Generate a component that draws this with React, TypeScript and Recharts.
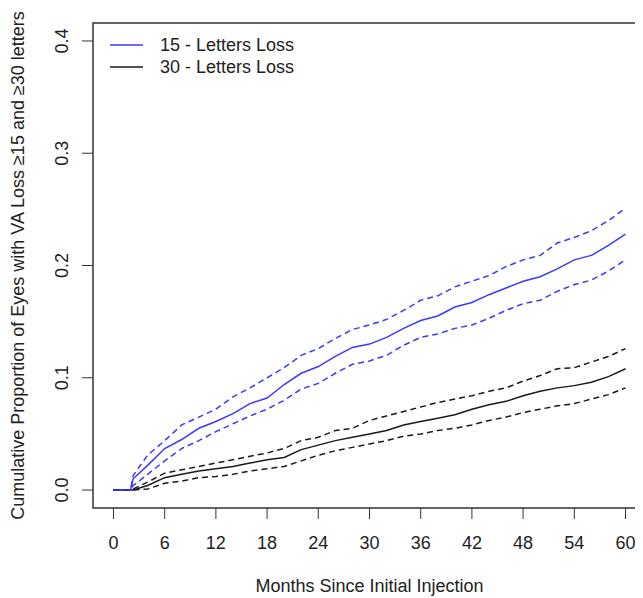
import React from 'react';
import { LineChart, Line, XAxis, YAxis, ReferenceArea } from 'recharts';

// months since first injection
const months = [0, 2, 2.3, 4, 6, 8, 10, 12, 14, 16, 18, 20, 22, 24, 26, 28, 30, 32, 34, 36, 38, 40, 42, 44, 46, 48, 50, 52, 54, 56, 58, 60];

const loss15 = [0, 0, 0.010, 0.022, 0.037, 0.045, 0.055, 0.061, 0.068, 0.077, 0.082, 0.094, 0.104, 0.110, 0.119, 0.127, 0.130, 0.136, 0.144, 0.151, 0.155, 0.163, 0.167, 0.174, 0.180, 0.186, 0.190, 0.197, 0.205, 0.209, 0.218, 0.228];
const loss15Upper = [0, 0, 0.013, 0.031, 0.044, 0.058, 0.065, 0.072, 0.083, 0.091, 0.100, 0.109, 0.120, 0.126, 0.135, 0.143, 0.147, 0.152, 0.160, 0.169, 0.173, 0.181, 0.186, 0.191, 0.199, 0.205, 0.209, 0.220, 0.225, 0.231, 0.240, 0.251];
const loss15Lower = [0, 0, 0.004, 0.014, 0.026, 0.037, 0.044, 0.052, 0.059, 0.066, 0.072, 0.080, 0.090, 0.095, 0.104, 0.112, 0.115, 0.120, 0.129, 0.136, 0.139, 0.144, 0.147, 0.153, 0.160, 0.166, 0.169, 0.177, 0.183, 0.187, 0.195, 0.205];

const loss30 = [0, 0, 0, 0.004, 0.011, 0.014, 0.017, 0.019, 0.021, 0.024, 0.027, 0.029, 0.036, 0.040, 0.044, 0.047, 0.050, 0.053, 0.058, 0.061, 0.064, 0.067, 0.072, 0.076, 0.079, 0.084, 0.088, 0.091, 0.093, 0.096, 0.101, 0.108];
const loss30Upper = [0, 0, 0.001, 0.007, 0.015, 0.018, 0.021, 0.024, 0.027, 0.030, 0.033, 0.037, 0.044, 0.047, 0.053, 0.055, 0.062, 0.066, 0.070, 0.074, 0.078, 0.081, 0.084, 0.088, 0.091, 0.097, 0.102, 0.108, 0.109, 0.114, 0.119, 0.126];
const loss30Lower = [0, 0, 0, 0.001, 0.006, 0.008, 0.011, 0.012, 0.014, 0.017, 0.019, 0.021, 0.026, 0.031, 0.035, 0.038, 0.041, 0.044, 0.048, 0.050, 0.053, 0.055, 0.058, 0.062, 0.065, 0.069, 0.072, 0.075, 0.077, 0.081, 0.085, 0.091];

const xTicks = [0, 6, 12, 18, 24, 30, 36, 42, 48, 54, 60];
const yTicks = [0, 0.1, 0.2, 0.3, 0.4];

const legendItems = [
  { label: '15 - Letters Loss', color: '#3a3aff' },
  { label: '30 - Letters Loss', color: '#1a1a1a' },
];

// R pads the axis range by 4% on each side
const X_MIN = -2.4;
const X_MAX = 62.4;
const Y_MIN = -0.016;
const Y_MAX = 0.416;

const FONT = '"Liberation Sans", Arial, Helvetica, sans-serif';
const BLUE = '#3a3aff';
const BLACK = '#1a1a1a';
const AXIS = '#333';

const data = months.map((m, i) => ({
  month: m,
  l15: loss15[i],
  l15hi: loss15Upper[i],
  l15lo: loss15Lower[i],
  l30: loss30[i],
  l30hi: loss30Upper[i],
  l30lo: loss30Lower[i],
}));

const YTick = (props: any) => {
  const { x, y, payload } = props;
  return (
    <text x={x} y={y} dy="0.35em" transform={`rotate(-90, ${x}, ${y})`} textAnchor="middle" fontSize={18} fill="#222" fontFamily={FONT}>
      {Number(payload.value).toFixed(1)}
    </text>
  );
};

const YLabel = (props: any) => {
  const vb = props.viewBox;
  const cy = vb.y + vb.height / 2;
  return (
    <text x={10} y={cy} dy="0.35em" transform={`rotate(-90, 10, ${cy})`} textAnchor="middle" fontSize={18} fill="#222" fontFamily={FONT}>
      Cumulative Proportion of Eyes with VA Loss ≥15 and ≥30 letters
    </text>
  );
};

export default function App() {
  return (
    <div style={{ position: 'relative', width: 634, height: 590, overflow: 'hidden', fontFamily: FONT }}>
      <LineChart width={650} height={590} data={data} margin={{ top: 15, right: 12, bottom: 0, left: 0 }}>
        <XAxis
          dataKey="month"
          type="number"
          domain={[X_MIN, X_MAX]}
          ticks={xTicks}
          allowDataOverflow
          axisLine={false}
          tickLine={{ stroke: AXIS }}
          tickSize={11}
          tickMargin={17}
          height={90}
          tick={{ fontSize: 18, fill: '#222', fontFamily: FONT }}
          label={{ value: 'Months Since Initial Injection', position: 'insideBottom', offset: 6, fontSize: 18, fill: '#222', fontFamily: FONT }}
        />
        <YAxis
          type="number"
          domain={[Y_MIN, Y_MAX]}
          ticks={yTicks}
          allowDataOverflow
          axisLine={false}
          tickLine={{ stroke: AXIS }}
          tickSize={11}
          tickMargin={20}
          width={85}
          tick={<YTick />}
          label={<YLabel />}
        />
        <ReferenceArea x1={X_MIN} x2={X_MAX} y1={Y_MIN} y2={Y_MAX} fill="none" stroke={AXIS} strokeWidth={1.5} ifOverflow="visible" />
        <Line dataKey="l15hi" stroke={BLUE} strokeWidth={1.5} strokeDasharray="6 4" dot={false} type="linear" isAnimationActive={false} />
        <Line dataKey="l15lo" stroke={BLUE} strokeWidth={1.5} strokeDasharray="6 4" dot={false} type="linear" isAnimationActive={false} />
        <Line dataKey="l30hi" stroke={BLACK} strokeWidth={1.5} strokeDasharray="6 4" dot={false} type="linear" isAnimationActive={false} />
        <Line dataKey="l30lo" stroke={BLACK} strokeWidth={1.5} strokeDasharray="6 4" dot={false} type="linear" isAnimationActive={false} />
        <Line dataKey="l30" stroke={BLACK} strokeWidth={1.5} dot={false} type="linear" isAnimationActive={false} />
        <Line dataKey="l15" stroke={BLUE} strokeWidth={1.5} dot={false} type="linear" isAnimationActive={false} />
      </LineChart>
      <div style={{ position: 'absolute', left: 102, top: 26 }}>
        {legendItems.map((it) => (
          <div key={it.label} style={{ display: 'flex', alignItems: 'center', height: 22 }}>
            <svg width={33} height={4} style={{ marginRight: 17 }}>
              <line x1={0} y1={2} x2={33} y2={2} stroke={it.color} strokeWidth={1.5} />
            </svg>
            <span style={{ fontSize: 18, color: '#222', lineHeight: '22px' }}>{it.label}</span>
          </div>
        ))}
      </div>
    </div>
  );
}
